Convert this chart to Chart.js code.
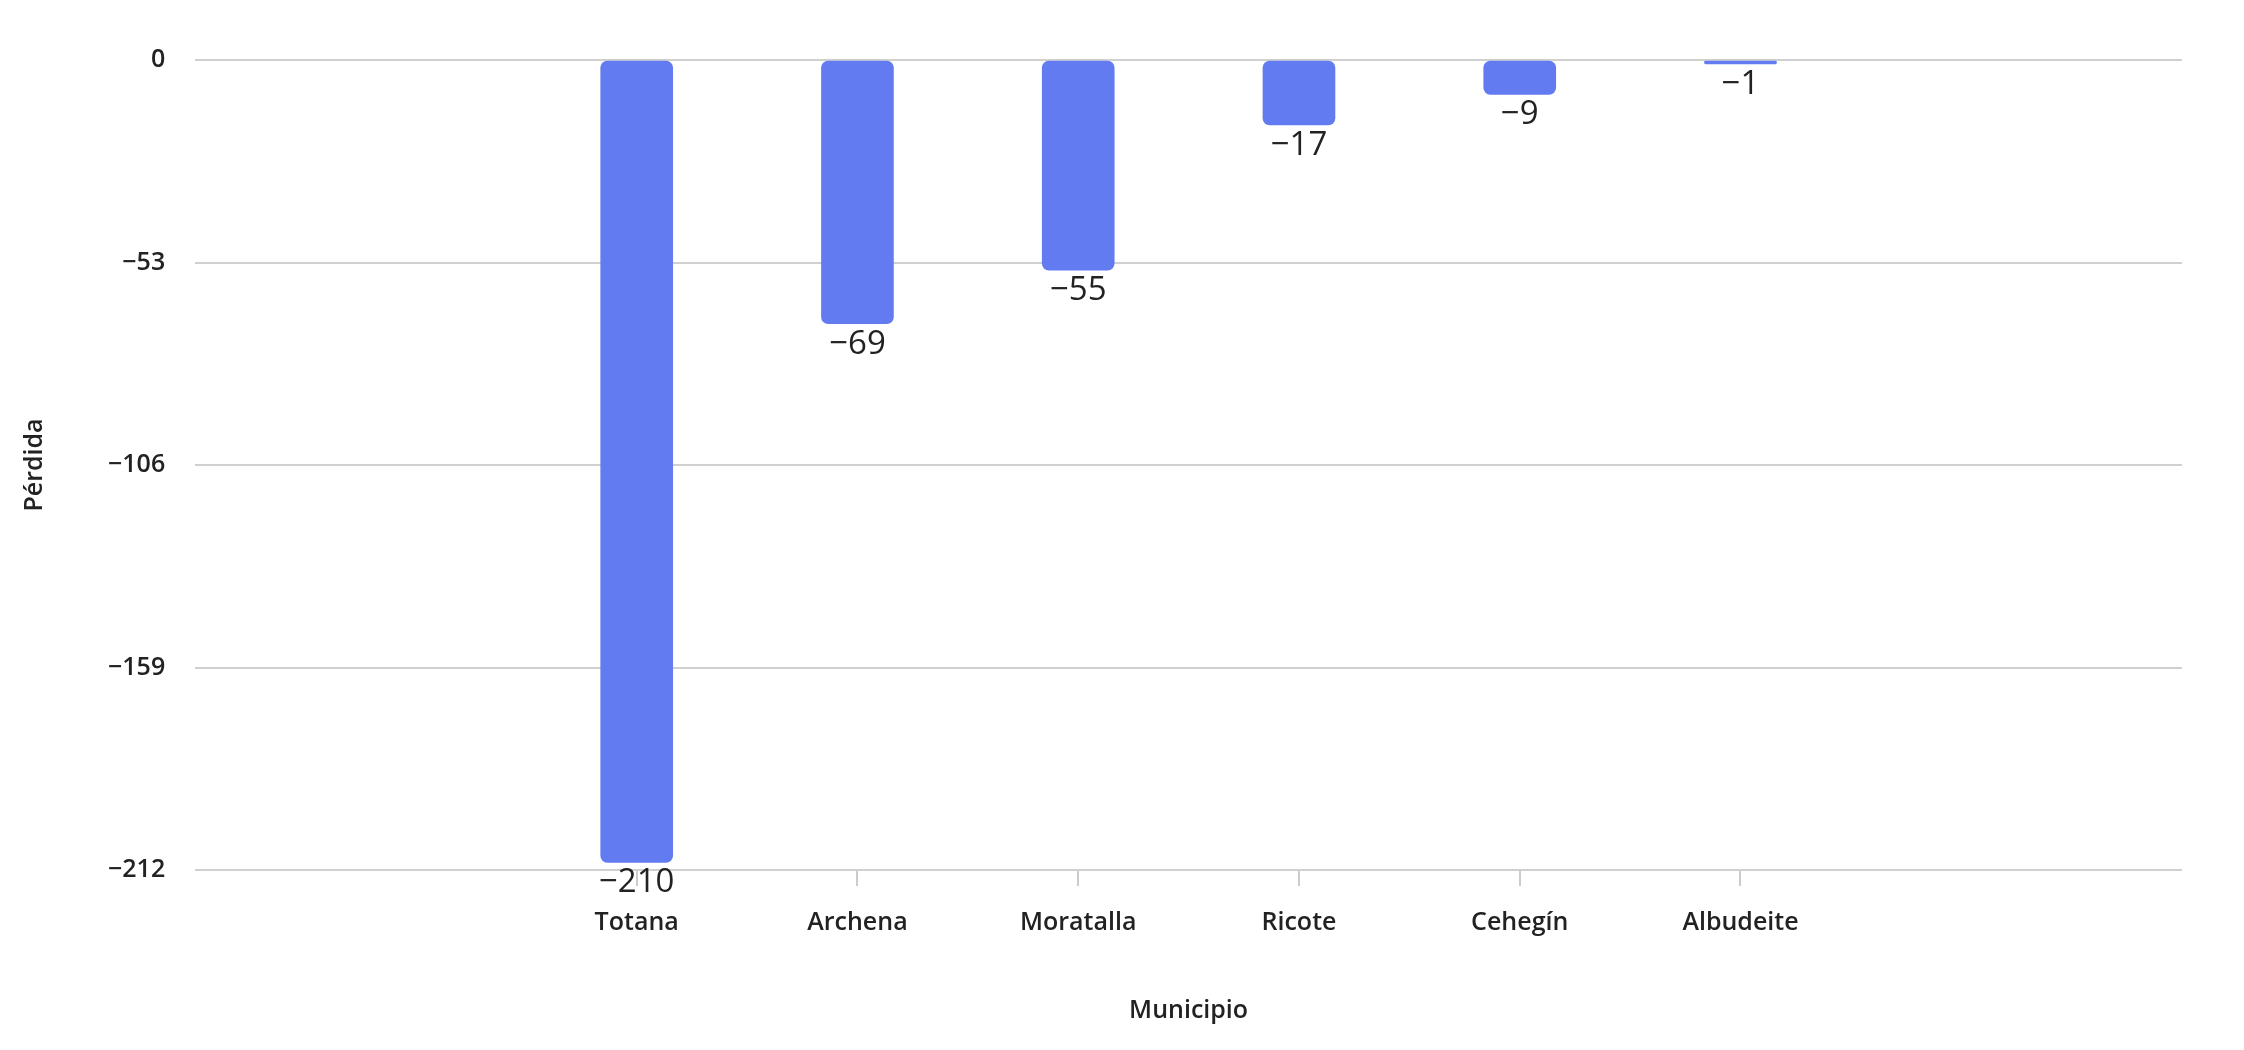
<!DOCTYPE html>
<html>
<head>
<meta charset="utf-8">
<script src="https://cdn.jsdelivr.net/npm/chart.js@4"></script>
<style>
  html, body { margin: 0; padding: 0; background: #fff; }
  #wrap { width: 2244px; height: 1050px; }
</style>
</head>
<body>
<div id="wrap"><canvas id="chart"></canvas></div>
<script>
// categories (blank slots pad the axis like the original)
const labels = ['', '', 'Totana', 'Archena', 'Moratalla', 'Ricote', 'Cehegín', 'Albudeite', '', ''];
const values = [null, null, -210, -69, -55, -17, -9, -1, null, null];
const yTicks = [0, -53, -106, -159, -212];

const FONT = '"Open Sans", "Noto Sans", sans-serif';
const BAR = '#637bf0';

// value labels under each bar
const valueLabels = {
  id: 'valueLabels',
  afterDatasetsDraw(chart) {
    const { ctx } = chart;
    const meta = chart.getDatasetMeta(0);
    ctx.save();
    ctx.font = `500 33px ${FONT}`;
    ctx.fillStyle = '#222';
    ctx.textAlign = 'center';
    ctx.textBaseline = 'top';
    meta.data.forEach((bar, i) => {
      if (values[i] == null) return;
      ctx.fillText(String(values[i]).replace('-', '\u2212'), bar.x, bar.y + 4);
    });
    ctx.restore();
  }
};

new Chart(document.getElementById('chart'), {
  type: 'bar',
  data: {
    labels: labels,
    datasets: [{
      label: 'Pérdida',
      data: values,
      backgroundColor: BAR,
      borderRadius: 7,
      borderSkipped: false,
      barThickness: 72
    }]
  },
  options: {
    responsive: true,
    maintainAspectRatio: false,
    animation: false,
    layout: { padding: { top: 60, right: 62, left: 16, bottom: 20 } },
    plugins: {
      legend: { display: false },
      tooltip: { enabled: false }
    },
    scales: {
      x: {
        offset: false,
        grid: {
          offset: false,
          drawOnChartArea: false,
          tickLength: 16,
          lineWidth: 2,
          color: ctx => (labels[ctx.index] ? '#cccccc' : 'rgba(0,0,0,0)')
        },
        border: { display: false },
        ticks: { color: '#222', font: { family: FONT, size: 25, weight: '600' }, padding: 22, autoSkip: false, maxRotation: 0 },
        title: { display: true, text: 'Municipio', color: '#222', font: { family: FONT, size: 25, weight: '600' }, padding: { top: 36 } }
      },
      y: {
        min: -212,
        max: 0,
        afterBuildTicks: axis => { axis.ticks = yTicks.map(v => ({ value: v })); },
        grid: { color: '#d0d0d0', lineWidth: 2, drawTicks: false },
        border: { display: false },
        ticks: {
          color: '#222', font: { family: FONT, size: 25, weight: '600' }, padding: 30,
          callback: v => String(v).replace('-', '\u2212')
        },
        title: { display: true, text: 'Pérdida', color: '#222', font: { family: FONT, size: 25, weight: '600' }, padding: { bottom: 28 } }
      }
    }
  },
  plugins: [valueLabels]
});
</script>
</body>
</html>
